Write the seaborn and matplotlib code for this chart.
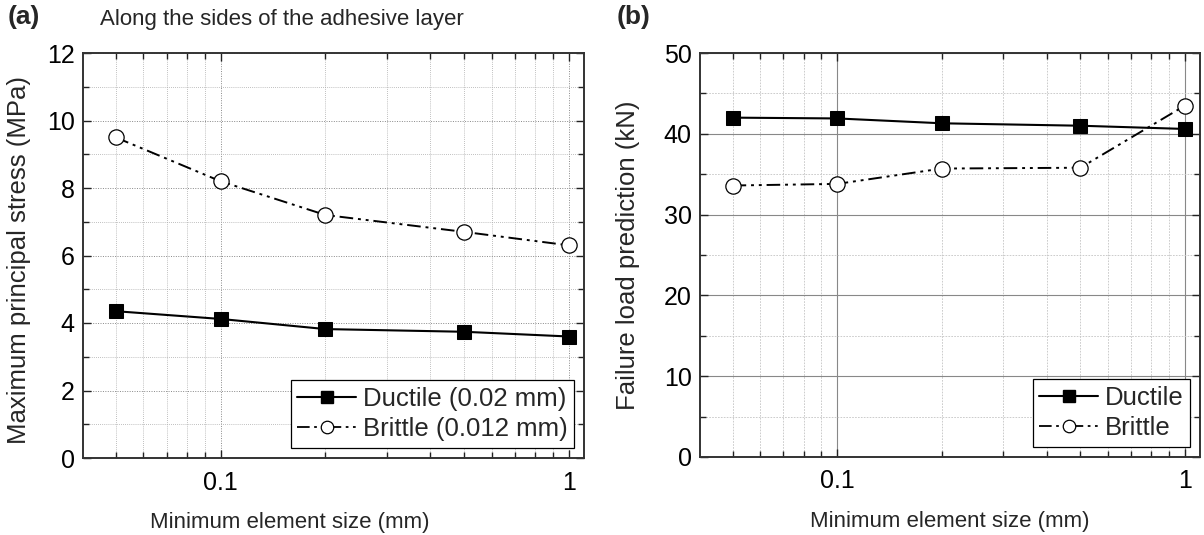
import numpy as np
import pandas as pd
import matplotlib
matplotlib.use("Agg")
import matplotlib.pyplot as plt
import seaborn as sns
from matplotlib.ticker import FixedLocator, MultipleLocator, NullFormatter, FixedFormatter
from matplotlib.lines import Line2D

# ---- data ----
element_size = [0.05, 0.1, 0.2, 0.5, 1.0]
stress_ductile = [4.35, 4.12, 3.82, 3.74, 3.60]
stress_brittle = [9.50, 8.20, 7.20, 6.70, 6.30]
load_ductile = [42.0, 41.9, 41.3, 41.0, 40.6]
load_brittle = [33.6, 33.8, 35.7, 35.8, 43.5]
x_ticks = [0.1, 1.0]
x_ticklabels = ["0.1", "1"]
legend_a = ["Ductile (0.02 mm)", "Brittle (0.012 mm)"]
legend_b = ["Ductile", "Brittle"]

sns.set_style("ticks")
REG = ["Liberation Sans", "DejaVu Sans"]
plt.rcParams["font.family"] = REG

fig = plt.figure(figsize=(12.04, 5.35), dpi=100)
ax_a = fig.add_axes([83/1204, (535-458)/535, 501/1204, 405/535])
ax_b = fig.add_axes([700/1204, (535-457)/535, 500/1204, 404/535])

DASHDOTDOT = (0, (7, 2.5, 1.5, 2.5, 1.5, 2.5))

def draw(ax, yd, yb, labels):
    df_d = pd.DataFrame({"x": element_size, "y": yd})
    df_b = pd.DataFrame({"x": element_size, "y": yb})
    sns.lineplot(data=df_d, x="x", y="y", ax=ax, color="black", lw=1.5,
                 marker="s", markersize=10, markerfacecolor="black",
                 markeredgecolor="black", zorder=4)
    sns.lineplot(data=df_b, x="x", y="y", ax=ax, color="black", lw=1.4,
                 linestyle=DASHDOTDOT, marker="o", markersize=11,
                 markerfacecolor="white", markeredgecolor="black",
                 markeredgewidth=0.9, zorder=4)
    ax.set_xscale("log")
    ax.set_xlim(0.0403, 1.104)
    ax.xaxis.set_major_locator(FixedLocator(x_ticks))
    ax.xaxis.set_major_formatter(FixedFormatter(x_ticklabels))
    minors = [0.05, 0.06, 0.07, 0.08, 0.09, 0.2, 0.3, 0.4, 0.5, 0.6, 0.7, 0.8, 0.9]
    ax.xaxis.set_minor_locator(FixedLocator(minors))
    ax.xaxis.set_minor_formatter(NullFormatter())
    ax.tick_params(axis="both", which="both", direction="in", top=True, right=True,
                   colors="#222222", labelcolor="black")
    ax.tick_params(axis="both", which="major", length=6, width=1.0, labelsize=18)
    ax.tick_params(axis="both", which="minor", length=4, width=1.0)
    ax.tick_params(axis="x", which="major", pad=9)
    ax.tick_params(axis="y", which="major", pad=6)
    for s in ax.spines.values():
        s.set_color("#333333")
        s.set_linewidth(1.4)
    ax.set_xlabel("Minimum element size (mm)", fontsize=16)
    h = [Line2D([], [], color="black", lw=1.5, marker="s", markersize=9,
                markerfacecolor="black"),
         Line2D([], [], color="black", lw=1.3, linestyle=DASHDOTDOT, marker="o",
                markersize=9, markerfacecolor="white", markeredgewidth=0.9)]
    leg = ax.legend(h, labels, loc="lower right", frameon=True,
                    fancybox=False, edgecolor="black", framealpha=1,
                    borderaxespad=0.4, handlelength=2.3, handletextpad=0.25,
                    borderpad=0.25, labelspacing=0.25,
                    prop={"family": REG, "size": 18.5})
    leg.get_frame().set_linewidth(0.9)
    leg.set_zorder(6)

# panel (a)
draw(ax_a, stress_ductile, stress_brittle, legend_a)
ax_a.set_ylim(0, 12)
ax_a.yaxis.set_major_locator(MultipleLocator(2))
ax_a.yaxis.set_minor_locator(MultipleLocator(1))
ax_a.grid(True, which="major", color="#888888", linestyle=(0, (1, 1.5)), lw=0.7)
ax_a.grid(True, which="minor", color="#aaaaaa", linestyle=(0, (1, 1.5)), lw=0.6)
ax_a.set_ylabel("Maximum principal stress (MPa)", fontsize=18.5)
ax_a.yaxis.set_label_coords(-0.103, 0.49)
ax_a.xaxis.set_label_coords(0.413, -0.133)
fig.text(282/1204, 1 - 20/535, "Along the sides of the adhesive layer",
         ha="center", va="center", fontsize=16)
fig.text(8/1204, 1 - 17/535, "(a)", ha="left", va="center", fontsize=19,
         fontweight="bold")

# panel (b)
draw(ax_b, load_ductile, load_brittle, legend_b)
ax_b.set_ylim(0, 50)
ax_b.yaxis.set_major_locator(MultipleLocator(10))
ax_b.yaxis.set_minor_locator(MultipleLocator(5))
ax_b.grid(True, which="major", color="#888888", linestyle="-", lw=0.8)
ax_b.grid(True, which="minor", color="#c4c4c4", linestyle=(0, (2, 1.5)), lw=0.6)
ax_b.set_ylabel("Failure load prediction (kN)", fontsize=18.5)
ax_b.yaxis.set_label_coords(-0.12, 0.5)
ax_b.xaxis.set_label_coords(0.5, -0.133)
fig.text(617/1204, 1 - 17/535, "(b)", ha="left", va="center", fontsize=19,
         fontweight="bold")

for ax in (ax_a, ax_b):
    ax.set_axisbelow(True)

fig.savefig("out.png", dpi=100)
